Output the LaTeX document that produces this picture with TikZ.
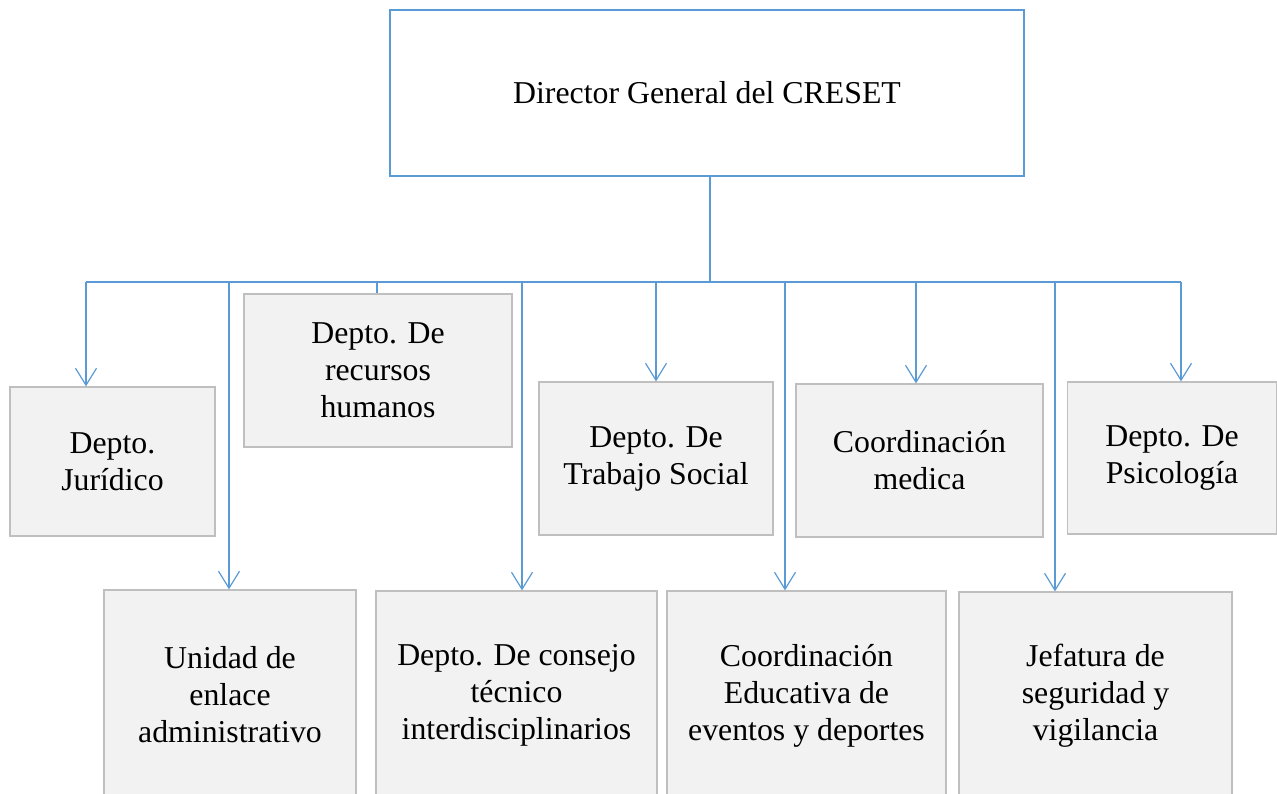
\documentclass[tikz,border=0pt]{standalone}
\usepackage{fontspec}
\setmainfont{Liberation Serif}
\usetikzlibrary{arrows.meta}
\definecolor{lineblue}{HTML}{5B9BD5}
\definecolor{boxfill}{HTML}{F2F2F2}
\definecolor{boxedge}{HTML}{BFBFBF}
\tikzset{
  orgbox/.style={draw=boxedge, line width=1.3pt, fill=boxfill, align=center, inner sep=0pt,
    font=\fontsize{31.8}{37}\selectfont},
  topbox/.style={draw=lineblue, line width=2pt, fill=white, align=center, inner sep=0pt,
    font=\fontsize{31.8}{37}\selectfont},
  conn/.style={draw=lineblue, line width=1.2pt},
  arr/.style={conn, -{Straight Barb[length=17pt,width=21pt,line width=1.2pt]}}
}
\begin{document}
\begin{tikzpicture}[x=1pt,y=-1pt]
\useasboundingbox (0,0) rectangle (1277,793);
\clip (0,0) rectangle (1277,793);
\fill[white] (0,0) rectangle (1277,793);
% boxes
\node[topbox, minimum width=634pt, minimum height=166pt] (top) at (707,93) {\raisebox{-2pt}{Director General del CRESET}};
\node[orgbox, minimum width=205pt, minimum height=149pt] (jur) at (112.5,461.5) {Depto.\\Jurídico};
\node[orgbox, minimum width=268pt, minimum height=153pt] (rh) at (378,370.5) {Depto. De\\recursos\\humanos};
\node[orgbox, minimum width=234pt, minimum height=153pt] (ts) at (656,458.5) {Depto. De\\Trabajo Social};
\node[orgbox, minimum width=247pt, minimum height=153pt] (cm) at (919.5,460.5) {Coordinación\\medica};
\node[orgbox, minimum width=209pt, minimum height=152pt] (ps) at (1172,458) {Depto. De\\Psicología};
\node[orgbox, minimum width=252pt, minimum height=210pt] (ua) at (230,695) {Unidad de\\enlace\\administrativo};
\node[orgbox, minimum width=281pt, minimum height=209pt] (ct) at (516.5,695.5) {Depto. De consejo\\técnico\\interdisciplinarios};
\node[orgbox, minimum width=279pt, minimum height=209pt] (ce) at (806.5,695.5) {Coordinación\\Educativa de\\eventos y deportes};
\node[orgbox, minimum width=273pt, minimum height=208pt] (js) at (1095.5,696) {Jefatura de\\seguridad y\\vigilancia};
% bus coordinates
\coordinate (hub) at (710,282);
\coordinate (b1) at (86,282);
\coordinate (b2) at (229,282);
\coordinate (b3) at (377,282);
\coordinate (b4) at (522,282);
\coordinate (b5) at (656,282);
\coordinate (b6) at (785,282);
\coordinate (b7) at (916,282);
\coordinate (b8) at (1055,282);
\coordinate (b9) at (1181,282);
% connectors
\draw[conn] (hub |- top.south) -- (hub);
\draw[conn] (b1) -- (b9);
\draw[arr] (b1) -- (b1 |- jur.north);
\draw[arr] (b2) -- (b2 |- ua.north);
\draw[conn] (b3) -- (b3 |- rh.north);
\draw[arr] (b4) -- (b4 |- ct.north);
\draw[arr] (b5) -- (b5 |- ts.north);
\draw[arr] (b6) -- (b6 |- ce.north);
\draw[arr] (b7) -- (b7 |- cm.north);
\draw[arr] (b8) -- (b8 |- js.north);
\draw[arr] (b9) -- (b9 |- ps.north);
\end{tikzpicture}
\end{document}
